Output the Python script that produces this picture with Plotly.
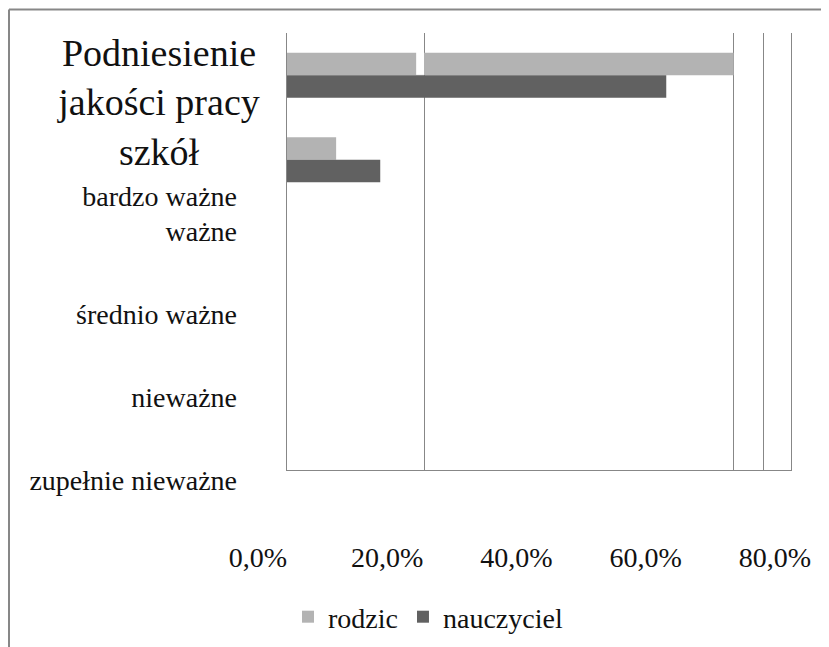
import plotly.graph_objects as go

# ---- data ----
categories = ["bardzo ważne", "ważne", "średnio ważne", "nieważne", "zupełnie nieważne"]
rodzic = [70.9, 7.8, 0, 0, 0]
nauczyciel = [60.2, 14.8, 0, 0, 0]
grid_values = [21.75, 70.95, 75.56]
rodzic_gap = [20.5, 21.75]
tick_values = [0, 20, 40, 60, 80]
tick_labels = ["0,0%", "20,0%", "40,0%", "60,0%", "80,0%"]
label_positions = [0.578, 1, 2, 3, 4]
title_text = "Podniesienie<br>jakości pracy<br>szkół"

W, H = 829, 647
OFF = 8  # page body offset


def fx(px):
    return (px - OFF) / W


def fy(py):
    return 1 - (py - OFF) / H


FONT = "Liberation Serif"
LIGHT = "#b3b3b3"
DARK = "#616161"
GRID = "#878787"
TXT = "#111111"

fig = go.Figure()
fig.add_trace(go.Bar(y=categories, x=rodzic, orientation="h", name="rodzic",
                     marker=dict(color=LIGHT, line=dict(width=0))))
fig.add_trace(go.Bar(y=categories, x=nauczyciel, orientation="h", name="nauczyciel",
                     marker=dict(color=DARK, line=dict(width=0))))
# invisible helper trace so that the free tick-label axes are drawn
fig.add_trace(go.Scatter(x=[0, 80], y=[1, 4], xaxis="x2", yaxis="y2", mode="markers",
                         marker=dict(opacity=0), hoverinfo="skip", showlegend=False))

# y2 range: 83 px per row, 'ważne' (1) at y=231
y2_top = 1 - (231 - OFF) / 83
y2_bot = y2_top + H / 83

fig.update_layout(
    width=W, height=H,
    margin=dict(l=0, r=0, t=0, b=0, autoexpand=False),
    paper_bgcolor="white", plot_bgcolor="rgba(0,0,0,0)",
    font=dict(family=FONT, size=28, color=TXT),
    barmode="group", bargap=0.467, bargroupgap=0,
    title=dict(text=title_text, x=(159 - OFF) / W, y=1 - (104 - OFF - 38) / H,
               xanchor="center", yanchor="middle",
               font=dict(family=FONT, size=38, color=TXT)),
    xaxis=dict(domain=[fx(287), fx(791)], range=[0, 80], tickmode="array", tickvals=grid_values,
               showticklabels=False, showgrid=True, gridcolor=GRID, gridwidth=1,
               zeroline=False, showline=True, linecolor=GRID, linewidth=1, ticks=""),
    yaxis=dict(domain=[fy(470), fy(33)], type="category", range=[4.67, -0.5],
               showticklabels=False, showgrid=False, zeroline=False,
               showline=True, mirror=True, linecolor=GRID, linewidth=1, ticks=""),
    xaxis2=dict(domain=[fx(258), fx(775)], range=[0, 80], anchor="free", position=fy(538),
                tickmode="array", tickvals=tick_values, ticktext=tick_labels,
                showgrid=False, zeroline=False, showline=False, ticks="",
                tickfont=dict(family=FONT, size=28, color=TXT)),
    yaxis2=dict(domain=[0, 1], range=[y2_bot, y2_top], anchor="free", position=fx(237),
                tickmode="array", tickvals=label_positions, ticktext=categories,
                showgrid=False, zeroline=False, showline=False, ticks="",
                tickfont=dict(family=FONT, size=28, color=TXT)),
    legend=dict(orientation="h", x=fx(428), y=fy(617), xanchor="center", yanchor="middle",
                font=dict(family=FONT, size=28, color=TXT), bgcolor="rgba(0,0,0,0)",
                traceorder="normal"),
    showlegend=True,
)

# white gap in the first 'rodzic' bar
fig.add_shape(type="rect", xref="x", yref="y", x0=rodzic_gap[0], x1=rodzic_gap[1],
              y0=-0.275, y1=-0.005, fillcolor="white", line=dict(width=0), layer="above")
# outer chart border (top and left edges visible)
fig.add_shape(type="line", xref="paper", yref="paper", x0=fx(9), x1=1.02,
              y0=fy(9.5), y1=fy(9.5), line=dict(color=GRID, width=2))
fig.add_shape(type="line", xref="paper", yref="paper", x0=fx(9), x1=fx(9),
              y0=fy(9.5), y1=-0.02, line=dict(color=GRID, width=2))

fig.write_html("out.html")
